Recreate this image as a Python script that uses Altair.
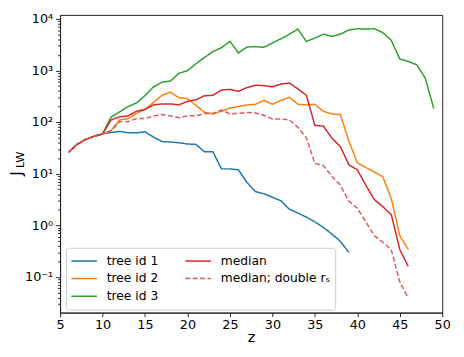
import altair as alt
import pandas as pd

# ---- data ----
z_tree1 = list(range(6, 40))
j_tree1 = [26, 37, 46, 53, 59, 63, 66, 62, 62, 65, 51, 42, 41, 39.8, 37.6, 37,
           26.6, 26.6, 12.4, 12.4, 11.9, 6.8, 4.5, 4.1, 3.5, 3.0, 2.05, 1.73,
           1.44, 1.17, 0.91, 0.68, 0.49, 0.30]

z_tree2 = list(range(6, 47))
j_tree2 = [26, 37, 46, 53, 59, 68, 110, 117, 147, 176, 240, 330, 380, 295, 286,
           210, 155, 144, 162, 187, 200, 215, 221, 263, 221, 263, 303, 221, 215,
           221, 162, 144, 140, 43, 16.3, 13.2, 10.8, 8.7, 3.3, 0.63, 0.34]

z_tree3 = list(range(6, 50))
j_tree3 = [26, 37, 46, 53, 59, 124, 157, 200, 235, 326, 480, 595, 625, 885, 990,
           1350, 1780, 2320, 2760, 3670, 2190, 2850, 2880, 2810, 3410, 4110,
           5030, 6320, 3650, 4230, 5030, 4580, 5030, 6080, 6420, 6320, 6420,
           5410, 3830, 1670, 1490, 1290, 706, 183]

z_median = list(range(6, 47))
j_median = [26, 37, 46, 53, 59, 110, 126, 132, 162, 176, 215, 225, 225, 215, 253,
            270, 323, 330, 418, 430, 394, 466, 516, 510, 480, 546, 570, 440, 330,
            86, 84, 49, 33.5, 15, 11.9, 6.0, 3.15, 2.3, 1.61, 0.34, 0.16]

z_double = list(range(6, 47))
j_double = [26, 37, 46, 53, 59, 68, 102, 102, 117, 117, 131, 140, 132, 121, 132,
            132, 147, 147, 171, 144, 148, 153, 150, 136, 115, 115, 110, 79, 50,
            15.8, 14.5, 8.9, 6.0, 2.95, 2.14, 1.17, 0.63, 0.47, 0.34, 0.080, 0.039]

series_names = ["tree id 1", "tree id 2", "tree id 3", "median", "median; double rₛ"]
series_colors = ["#1f77b4", "#ff7f0e", "#2ca02c", "#d62728", "#e0585a"]
series_dashes = [[1, 0], [1, 0], [1, 0], [1, 0], [5, 2.5]]

x_ticks = [5, 10, 15, 20, 25, 30, 35, 40, 45, 50]
y_major = [0.1, 1, 10, 100, 1000, 10000]
y_minor = [0.03, 0.04, 0.05, 0.06, 0.07, 0.08, 0.09,
           0.2, 0.3, 0.4, 0.5, 0.6, 0.7, 0.8, 0.9,
           2, 3, 4, 5, 6, 7, 8, 9,
           20, 30, 40, 50, 60, 70, 80, 90,
           200, 300, 400, 500, 600, 700, 800, 900,
           2000, 3000, 4000, 5000, 6000, 7000, 8000, 9000]
y_domain = [0.0204, 11900]

frames = []
for name, zs, js in zip(series_names,
                        [z_tree1, z_tree2, z_tree3, z_median, z_double],
                        [j_tree1, j_tree2, j_tree3, j_median, j_double]):
    frames.append(pd.DataFrame({"z": zs, "J": js, "series": name}))
df = pd.concat(frames, ignore_index=True)
df["order"] = df["series"].map({n: i for i, n in enumerate(series_names)})

FONT = "DejaVu Sans"

label_expr = ("datum.value==0.1?'10⁻¹':datum.value==1?'10⁰':datum.value==10?'10¹':"
              "datum.value==100?'10²':datum.value==1000?'10³':datum.value==10000?'10⁴':''")
major_test = "indexof([0.1,1,10,100,1000,10000], datum.value) >= 0"

legend_props = dict(title=None, orient="none", legendX=6, legendY=237,
                    columns=2, labelFont=FONT, labelFontSize=12.5,
                    labelColor="#000", symbolType="stroke",
                    symbolSize=676, symbolStrokeWidth=1.5,
                    clipHeight=17.5, labelOffset=9, columnPadding=26,
                    rowPadding=0, padding=4.5, strokeColor="#cccccc",
                    fillColor="rgba(255,255,255,0.8)", cornerRadius=3,
                    labelLimit=300)

lines = alt.Chart(df).mark_line(strokeWidth=1.5, clip=True).encode(
    x=alt.X("z:Q", scale=alt.Scale(domain=[5, 50], nice=False, zero=False),
            axis=alt.Axis(values=x_ticks, title="z", labelFlush=False, grid=False,
                          tickSize=4, labelPadding=2, titlePadding=-2,
                          titleFontSize=15, titleFontWeight="normal")),
    y=alt.Y("J:Q", scale=alt.Scale(type="log", domain=y_domain, nice=False),
            axis=alt.Axis(values=y_major + y_minor, title=None, grid=False,
                          labelExpr=label_expr, labelOverlap=False,
                          labelPadding=3,
                          tickSize={"condition": {"test": major_test, "value": 4.5},
                                    "value": 2.5})),
    color=alt.Color("series:N", scale=alt.Scale(domain=series_names, range=series_colors),
                    legend=alt.Legend(**legend_props)),
    strokeDash=alt.StrokeDash("series:N", scale=alt.Scale(domain=series_names, range=series_dashes),
                              legend=alt.Legend(**legend_props)),
    order=alt.Order("order:Q"),
)

jtext = alt.Chart(pd.DataFrame({"t": ["J"]})).mark_text(
    angle=270, align="center", baseline="alphabetic", font=FONT, fontSize=15.5, color="#000"
).encode(text="t:N", x=alt.value(-39), y=alt.value(161.5))

lwtext = alt.Chart(pd.DataFrame({"t": ["LW"]})).mark_text(
    angle=270, align="center", baseline="alphabetic", font=FONT, fontSize=11.5, color="#000"
).encode(text="t:N", x=alt.value(-37), y=alt.value(147.5))

chart = alt.layer(lines, jtext, lwtext).properties(
    width=389, height=303,
    autosize=alt.AutoSizeParams(type="none"),
    padding={"left": 53, "top": 4, "right": 14, "bottom": 34},
).configure_view(
    stroke="#222", strokeWidth=1
).configure_axis(
    labelFont=FONT, titleFont=FONT, labelFontSize=13, labelColor="#000",
    titleColor="#000", tickColor="#222", domainColor="#222", tickWidth=1,
)

chart.save("out.html", embed_options={"renderer": "svg", "actions": False})
